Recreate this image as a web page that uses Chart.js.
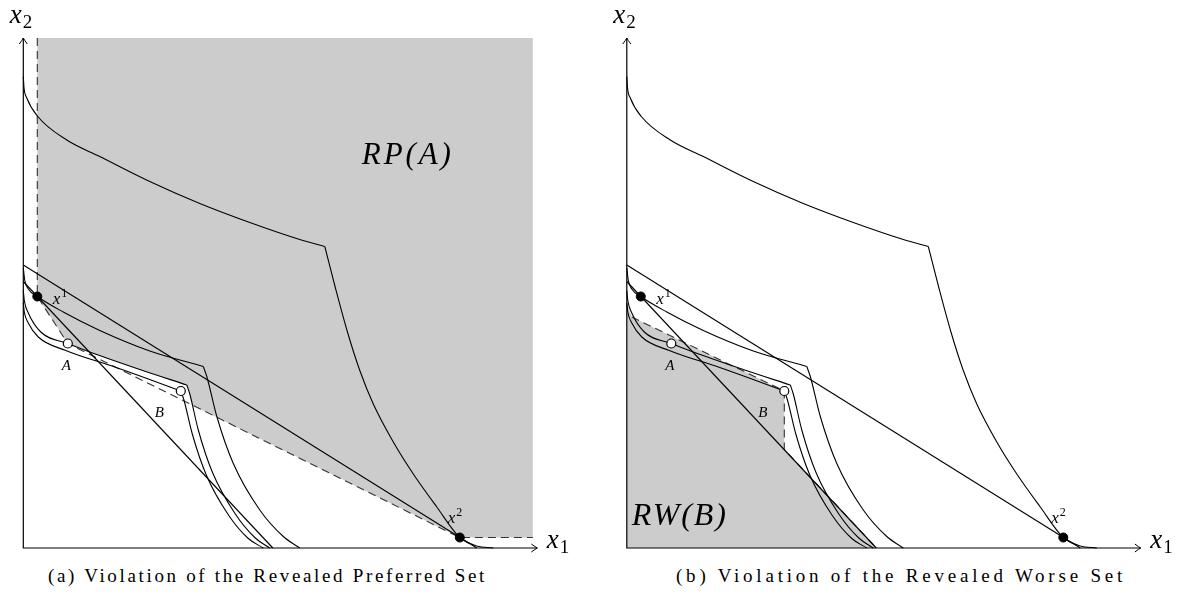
<!DOCTYPE html>
<html>
<head>
<meta charset="utf-8">
<script src="https://cdn.jsdelivr.net/npm/chart.js@4.4.0/dist/chart.umd.min.js"></script>
<style>
  body { margin: 0; background: #fff; width: 1189px; height: 607px; overflow: hidden; position: relative; }
  canvas { position: absolute; top: 0; }
  #panelA { left: 0; }
  #panelB { left: 603px; }
  .cap { position: absolute; top: 566px; font-family: "Liberation Serif", "DejaVu Serif", "Times New Roman", serif; font-size: 19px; line-height: 20px; white-space: nowrap; color: #000; }
</style>
</head>
<body>
<canvas id="panelA" width="585" height="560"></canvas>
<canvas id="panelB" width="585" height="560"></canvas>
<div class="cap" id="capA">(a) Violation of the Revealed Preferred Set</div>
<div class="cap" id="capB">(b) Violation of the Revealed Worse Set</div>
<script>
// axis ranges (same for both panels)
const X_MAX = 10.3;
const Y_MAX = 10.2;
const SERIF = '"Liberation Serif", "DejaVu Serif", "Times New Roman", serif';

// indifference curves, split at their kinks
const icTopFlat = [[0, 9.43], [0.015, 9.2], [0.07, 9.0], [0.29, 8.63], [0.87, 8.16], [1.53, 7.83], [2.53, 7.33], [3.53, 6.89], [4.53, 6.51], [5.53, 6.17], [6.03, 6.03]];
const icTopSteep = [[6.03, 6.03], [6.25, 5.17], [6.48, 4.33], [6.73, 3.55], [7.0, 2.88], [7.4, 2.12], [7.8, 1.48], [8.27, 0.82], [8.73, 0.21], [9.07, 0.04], [9.4, 0]];
const ic1Flat = [[0, 5.6], [0.03, 5.35], [0.1, 5.18], [0.28, 5.03], [0.8, 4.72], [1.53, 4.35], [2.53, 3.94], [3.6, 3.63]];
const ic1Steep = [[3.6, 3.63], [3.67, 3.43], [3.87, 2.63], [4.2, 1.69], [4.73, 0.76], [5.2, 0.23], [5.53, 0]];
const icAFlat = [[0, 5.15], [0.02, 4.95], [0.1, 4.7], [0.35, 4.32], [0.89, 4.09], [1.33, 3.92], [2.33, 3.57], [3.27, 3.26]];
const icASteep = [[3.27, 3.26], [3.33, 3.08], [3.5, 2.36], [3.78, 1.52], [4.24, 0.68], [4.64, 0.2], [4.93, 0]];
const icBFlat = [[0, 4.9], [0.02, 4.72], [0.1, 4.5], [0.3, 4.22], [0.85, 3.95], [1.83, 3.62], [2.5, 3.38], [3.15, 3.14]];
const icBSteep = [[3.15, 3.14], [3.21, 2.97], [3.38, 2.28], [3.66, 1.46], [4.11, 0.65], [4.5, 0.19], [4.8, 0]];

// budget lines
const budget1 = [[0, 5.33], [4.99, 0]];
const budget2 = [[0, 5.66], [9.07, 0]];

// chosen bundles and the other points
const chosen = [[0.28, 5.03], [8.73, 0.21]];   // x1, x2
const openPts = [[0.89, 4.09], [3.15, 3.14]];  // A, B

// panel (a): revealed preferred set
const rpDash = [[0.28, 10.2], [0.28, 5.03], [0.89, 4.09], [8.73, 0.21], [10.19, 0.21]];
const rpRegion = [[0.28, 10.2], [10.19, 10.2], [10.19, 0.21], [8.73, 0.21], [3.39, 2.85], [3.33, 3.08], [3.27, 3.26], [2.33, 3.57], [1.33, 3.92], [0.89, 4.09], [0.28, 5.03]];

// panel (b): revealed worse set
const rwDash = [[0.1, 4.62], [3.15, 3.14], [3.15, 1.97], [4.99, 0]];
const rwRegion = [[0, 0], [0, 4.9], [0.1, 4.62], [3.15, 3.14], [3.15, 1.97], [4.99, 0]];

// text labels (width = target text width in px, when the label is stretched)
const sharedLabels = [
  { text: "x", sub: "2", x: -0.27, y: 10.5, size: 27, small: 19 },
  { text: "x", sub: "1", x: 10.47, y: 0, size: 27, small: 19 },
  { text: "x", sup: "1", x: 0.59, y: 4.88, size: 17, small: 12 },
  { text: "x", sup: "2", x: 8.49, y: 0.5, size: 17, small: 12 },
  { text: "A", x: 0.77, y: 3.56, size: 15 },
  { text: "B", x: 2.63, y: 2.63, size: 15 }
];
const labelsA = sharedLabels.concat([{ text: "RP(A)", x: 6.77, y: 7.68, size: 31, width: 92 }]);
const labelsB = sharedLabels.concat([{ text: "RW(B)", x: 0.1, y: 0.46, size: 32, width: 96 }]);

const panelLabels = { panelA: labelsA, panelB: labelsB };

const toXY = (arr) => arr.map((p) => ({ x: p[0], y: p[1] }));

function curve(arr) {
  return {
    data: toXY(arr),
    showLine: true,
    borderColor: "#000",
    borderWidth: 1.1,
    pointRadius: 0,
    cubicInterpolationMode: "monotone",
    fill: false,
    clip: false,
    order: 5,
  };
}

function straight(arr) {
  return {
    data: toXY(arr),
    showLine: true,
    borderColor: "#000",
    borderWidth: 1.1,
    pointRadius: 0,
    tension: 0,
    fill: false,
    clip: false,
    order: 5,
  };
}

function dashed(arr) {
  return {
    data: toXY(arr),
    showLine: true,
    borderColor: "#333",
    borderWidth: 1.1,
    borderDash: [8, 5],
    pointRadius: 0,
    tension: 0,
    fill: false,
    clip: false,
    order: 6,
  };
}

function region(arr) {
  return {
    data: toXY(arr),
    showLine: true,
    borderWidth: 0,
    borderColor: "rgba(0,0,0,0)",
    backgroundColor: "#cccccc",
    pointRadius: 0,
    tension: 0,
    fill: "shape",
    clip: false,
    order: 10,
  };
}

const texPlugin = {
  id: "texLabels",
  afterDatasetsDraw(chart) {
    const ctx = chart.ctx;
    const xs = chart.scales.x;
    const ys = chart.scales.y;
    const x0 = xs.getPixelForValue(0);
    const y0 = ys.getPixelForValue(0);
    const top = chart.chartArea.top;
    const right = chart.chartArea.right - 1;

    ctx.save();
    ctx.strokeStyle = "#000";
    ctx.lineWidth = 1.2;
    ctx.beginPath();
    ctx.moveTo(x0, top);
    ctx.lineTo(x0, y0);
    ctx.lineTo(right, y0);
    ctx.stroke();
    // arrow heads
    ctx.lineWidth = 1;
    ctx.beginPath();
    ctx.moveTo(x0 - 4, top + 6);
    ctx.quadraticCurveTo(x0 - 1, top + 2, x0, top);
    ctx.quadraticCurveTo(x0 + 1, top + 2, x0 + 4, top + 6);
    ctx.moveTo(right - 6, y0 - 4);
    ctx.quadraticCurveTo(right - 2, y0 - 1, right, y0);
    ctx.quadraticCurveTo(right - 2, y0 + 1, right - 6, y0 + 4);
    ctx.stroke();

    ctx.fillStyle = "#000";
    ctx.textBaseline = "alphabetic";
    ctx.textAlign = "left";
    (panelLabels[chart.canvas.id] || []).forEach((l) => {
      const px = xs.getPixelForValue(l.x);
      const py = ys.getPixelForValue(l.y);
      ctx.font = `italic ${l.size}px ${SERIF}`;
      ctx.letterSpacing = "0px";
      if (l.width) {
        const w0 = ctx.measureText(l.text).width;
        ctx.letterSpacing = Math.max(0, (l.width - w0) / l.text.length) + "px";
      }
      ctx.fillText(l.text, px, py);
      const w = ctx.measureText(l.text).width;
      ctx.letterSpacing = "0px";
      if (l.sub) {
        ctx.font = `${l.small}px ${SERIF}`;
        ctx.fillText(l.sub, px + w + 1, py + l.size * 0.2);
      }
      if (l.sup) {
        ctx.font = `${l.small}px ${SERIF}`;
        ctx.fillText(l.sup, px + w + 1, py - l.size * 0.4);
      }
    });
    ctx.restore();
  },
};

function makePanel(id, padLeft, dash, shade) {
  const datasets = [
    {
      data: toXY(chosen),
      pointRadius: 4.5,
      pointBackgroundColor: "#000",
      pointBorderColor: "#000",
      pointBorderWidth: 1,
      showLine: false,
      clip: false,
      order: 0,
    },
    {
      data: toXY(openPts),
      pointRadius: 4.5,
      pointBackgroundColor: "#fff",
      pointBorderColor: "#000",
      pointBorderWidth: 1.2,
      showLine: false,
      clip: false,
      order: 0,
    },
    curve(icTopFlat), curve(icTopSteep),
    curve(ic1Flat), curve(ic1Steep),
    curve(icAFlat), curve(icASteep),
    curve(icBFlat), curve(icBSteep),
    straight(budget1), straight(budget2),
    dashed(dash),
    region(shade),
  ];

  return new Chart(document.getElementById(id), {
    type: "scatter",
    data: { datasets: datasets },
    options: {
      responsive: false,
      animation: false,
      events: [],
      layout: { padding: { left: padLeft, right: 585 - padLeft - 515, top: 38, bottom: 12 } },
      scales: {
        x: { type: "linear", min: 0, max: X_MAX, display: false },
        y: { type: "linear", min: 0, max: Y_MAX, display: false },
      },
      plugins: { legend: { display: false }, tooltip: { enabled: false } },
    },
    plugins: [texPlugin],
  });
}

makePanel("panelA", 23.3, rpDash, rpRegion);
makePanel("panelB", 23.8, rwDash, rwRegion);

// captions: stretch letter spacing to the width of the original
function fitCaption(id, center, width) {
  const el = document.getElementById(id);
  const w = el.getBoundingClientRect().width;
  const n = el.textContent.length;
  el.style.letterSpacing = ((width - w) / n) + "px";
  const w2 = el.getBoundingClientRect().width;
  el.style.left = (center - w2 / 2) + "px";
}
fitCaption("capA", 267.5, 439);
fitCaption("capB", 901, 450);
</script>
</body>
</html>
